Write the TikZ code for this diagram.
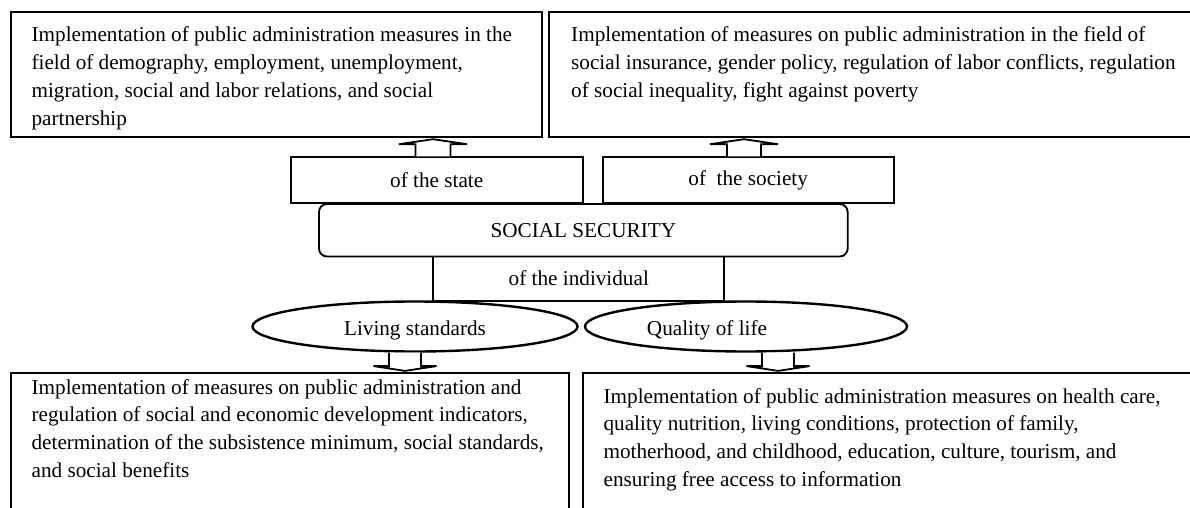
\documentclass[tikz,border=0pt]{standalone}
\usepackage{fontspec}
\setmainfont{Liberation Serif}
\usetikzlibrary{shapes.geometric,calc}
\begin{document}
\begin{tikzpicture}[x=1pt,y=-1pt,
  font=\fontsize{21.2}{27.7}\selectfont,
  box/.style={draw, line width=1.8pt, rectangle, inner sep=0pt},
  rbox/.style={box, rounded corners=8pt},
  oval/.style={draw, line width=2.4pt, ellipse, inner sep=0pt},
  txt/.style={inner sep=0pt, align=left, anchor=base west},
  barrow/.style={draw, line width=1.8pt, fill=white, line join=miter}]
\useasboundingbox (0,0) rectangle (1190,508);
\clip (0,0) rectangle (1190,508);

% boxes
\node[box, minimum width=531.3pt, minimum height=125pt] (tl) at (276.35,74.2) {};
\node[box, minimum width=650.7pt, minimum height=125pt] (tr) at (874.65,74.2) {};
\node[box, minimum width=292pt, minimum height=45.7pt] (st) at (436.7,180.15) {of the state};
\node[box, minimum width=291pt, minimum height=45.7pt] (so) at (748.2,180.15) {of~ the society};
\node[rbox, minimum width=528.7pt, minimum height=52.5pt] (ss) at (583.35,230.25) {SOCIAL SECURITY};
\node[box, minimum width=291pt, minimum height=44.2pt] (in) at (578.8,278.6) {of the individual};
\node[oval, minimum width=325pt, minimum height=50pt] (ls) at (415,326.5) {};
\node[oval, minimum width=322pt, minimum height=50pt] (ql) at (746,326.5) {};
\node[box, minimum width=558.3pt, minimum height=156.7pt] (bl) at (289.85,451.65) {};
\node[box, minimum width=617.3pt, minimum height=156.7pt] (br) at (891.35,451.65) {};

% texts (anchored at the baseline of their last line)
\node[txt] (tlt) at (31.4,125) {Implementation of public administration measures in the\\
field of demography, employment, unemployment,\\
migration, social and labor relations, and social\\
partnership};
\node[txt] (trt) at (571,97.3) {Implementation of measures on public administration in the field of\\
social insurance, gender policy, regulation of labor conflicts, regulation\\
of social inequality, fight against poverty};
\node[txt] (blt) at (31.4,477.1) {Implementation of measures on public administration and\\
regulation of social and economic development indicators,\\
determination of the subsistence minimum, social standards,\\
and social benefits};
\node[txt] (brt) at (603.4,486.1) {Implementation of public administration measures on health care,\\
quality nutrition, living conditions, protection of family,\\
motherhood, and childhood, education, culture, tourism, and\\
ensuring free access to information};
\node[inner sep=0pt] (lst) at (415,330) {Living standards};
\node[inner sep=0pt] (qlt) at (707,330) {Quality of life};

% block arrows
\coordinate (u1) at (433,0);
\coordinate (u2) at (744,0);
\coordinate (d1) at (405,0);
\coordinate (d2) at (778,0);
\draw[barrow] ($(u1 |- st.north)+(-17.5,0)$) -- ($(u1 |- tl.south)+(-17.5,6.6)$) -- ($(u1 |- tl.south)+(-34,6.6)$) -- ($(u1 |- tl.south)+(0,1.6)$) -- ($(u1 |- tl.south)+(34,6.6)$) -- ($(u1 |- tl.south)+(17.5,6.6)$) -- ($(u1 |- st.north)+(17.5,0)$);
\draw[barrow] ($(u2 |- so.north)+(-17,0)$) -- ($(u2 |- tr.south)+(-17,6.6)$) -- ($(u2 |- tr.south)+(-34,6.6)$) -- ($(u2 |- tr.south)+(0,1.6)$) -- ($(u2 |- tr.south)+(34,6.6)$) -- ($(u2 |- tr.south)+(17,6.6)$) -- ($(u2 |- so.north)+(17,0)$);
\draw[barrow] ($(d1 |- ls.south)+(-16,0)$) -- ($(d1 |- bl.north)+(-16,-6.3)$) -- ($(d1 |- bl.north)+(-31.5,-6.3)$) -- ($(d1 |- bl.north)+(0,-1.5)$) -- ($(d1 |- bl.north)+(31.5,-6.3)$) -- ($(d1 |- bl.north)+(16,-6.3)$) -- ($(d1 |- ls.south)+(16,0)$);
\draw[barrow] ($(d2 |- ql.south)+(-16,0)$) -- ($(d2 |- br.north)+(-16,-6.3)$) -- ($(d2 |- br.north)+(-31.5,-6.3)$) -- ($(d2 |- br.north)+(0,-1.5)$) -- ($(d2 |- br.north)+(31.5,-6.3)$) -- ($(d2 |- br.north)+(16,-6.3)$) -- ($(d2 |- ql.south)+(16,0)$);
\end{tikzpicture}
\end{document}
